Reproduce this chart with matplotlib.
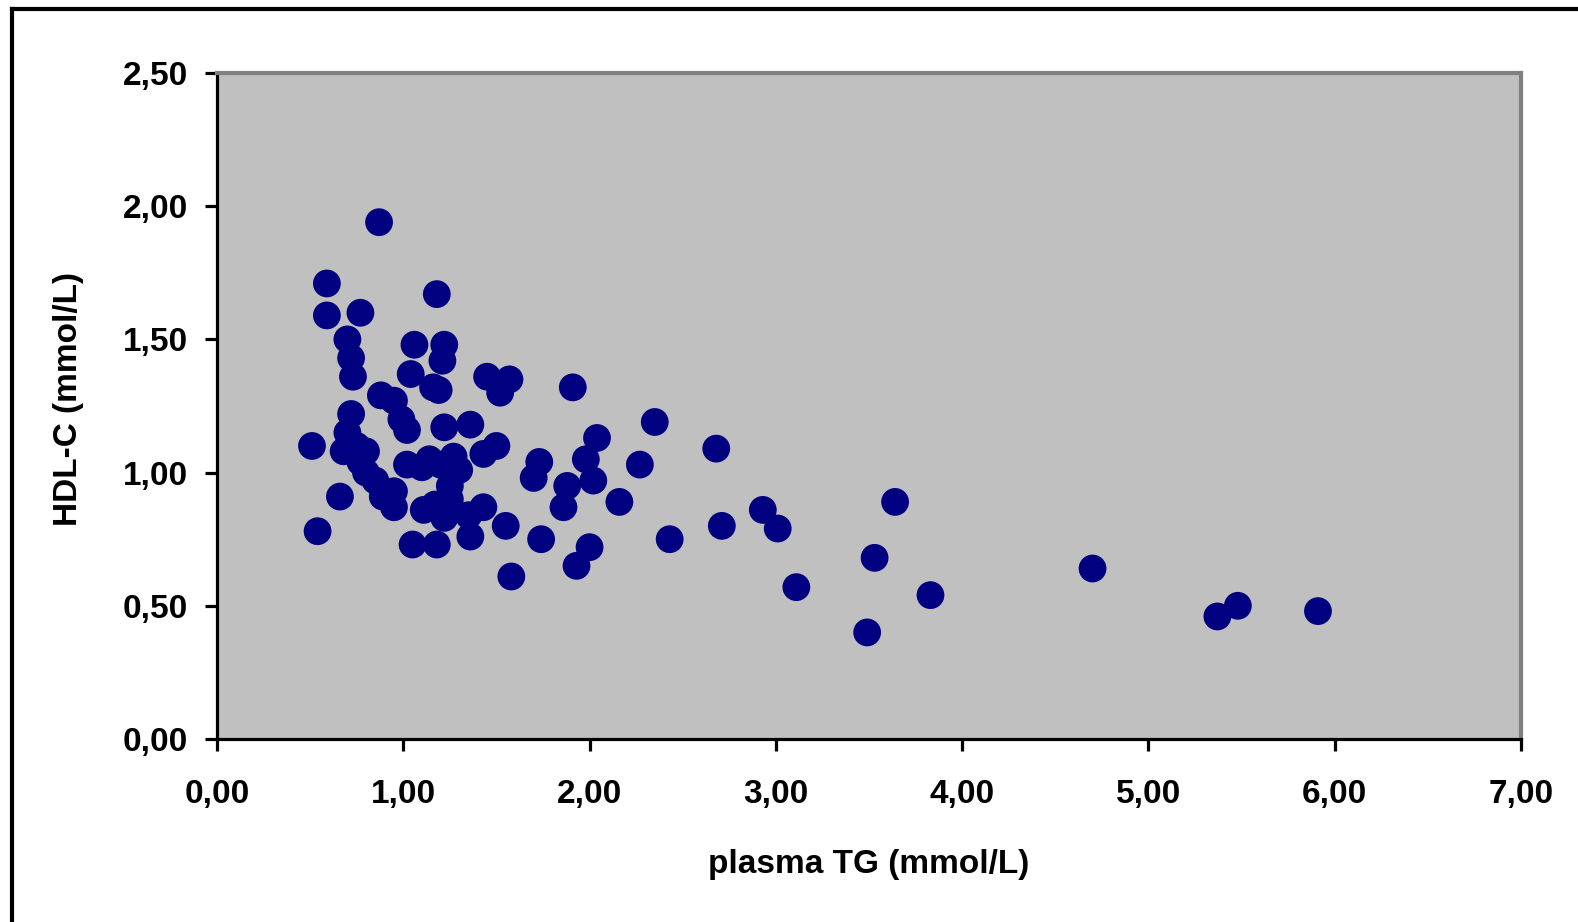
import matplotlib
matplotlib.use("Agg")
import matplotlib.pyplot as plt
from matplotlib.lines import Line2D
from matplotlib.ticker import FuncFormatter

# plasma TG (mmol/L) vs HDL-C (mmol/L)
tg = [0.87, 0.59, 0.59, 0.77, 1.18, 0.70, 0.72, 0.73, 1.06, 1.22,
      1.21, 1.04, 1.16, 1.19, 0.88, 0.95, 0.99, 1.02, 1.45, 1.57,
      1.52, 1.91, 2.35, 0.72, 0.70, 0.75, 0.77, 0.80, 0.51, 0.66,
      0.89, 0.95, 0.95, 0.54, 1.22, 1.36, 1.50, 1.43, 1.02, 1.14,
      1.27, 1.30, 1.25, 1.11, 1.25, 1.43, 1.55, 1.36, 1.22, 1.05,
      1.18, 1.74, 1.73, 1.70, 1.88, 1.86, 2.04, 1.98, 2.02, 2.27,
      2.16, 2.00, 1.93, 1.58, 2.43, 2.68, 2.93, 3.01, 2.71, 3.64,
      3.53, 3.11, 3.83, 4.70, 3.49, 5.37, 5.48, 5.91,
      1.20, 1.35, 1.17, 0.68, 0.80, 0.85, 1.10]
hdl = [1.94, 1.71, 1.59, 1.60, 1.67, 1.50, 1.43, 1.36, 1.48, 1.48,
       1.42, 1.37, 1.32, 1.31, 1.29, 1.27, 1.20, 1.16, 1.36, 1.35,
       1.30, 1.32, 1.19, 1.22, 1.15, 1.10, 1.04, 1.00, 1.10, 0.91,
       0.91, 0.93, 0.87, 0.78, 1.17, 1.18, 1.10, 1.07, 1.03, 1.05,
       1.06, 1.01, 0.95, 0.86, 0.90, 0.87, 0.80, 0.76, 0.83, 0.73,
       0.73, 0.75, 1.04, 0.98, 0.95, 0.87, 1.13, 1.05, 0.97, 1.03,
       0.89, 0.72, 0.65, 0.61, 0.75, 1.09, 0.86, 0.79, 0.80, 0.89,
       0.68, 0.57, 0.54, 0.64, 0.40, 0.46, 0.50, 0.48,
       1.03, 0.84, 0.88, 1.08, 1.08, 0.97, 1.02]

xticks = [0, 1, 2, 3, 4, 5, 6, 7]
yticks = [0, 0.5, 1.0, 1.5, 2.0, 2.5]

plt.rcParams['font.family'] = ['Liberation Sans', 'DejaVu Sans']

fig = plt.figure(figsize=(15.78, 9.22), dpi=100)
ax = fig.add_axes([0.1375, 0.1985, 0.8264, 0.7223])
ax.set_facecolor('#C0C0C0')

ax.scatter(tg, hdl, s=400, color='#000080', edgecolors='none', zorder=3)

ax.set_xlim(0, 7)
ax.set_ylim(0, 2.5)
ax.set_xticks(xticks)
ax.set_yticks(yticks)
comma = FuncFormatter(lambda v, p: ('%.2f' % v).replace('.', ','))
ax.xaxis.set_major_formatter(comma)
ax.yaxis.set_major_formatter(comma)

for s in ['left', 'bottom']:
    ax.spines[s].set_color('black')
    ax.spines[s].set_linewidth(2.3)
for s in ['top', 'right']:
    ax.spines[s].set_color('#808080')
    ax.spines[s].set_linewidth(3)

ax.tick_params(axis='both', direction='out', length=8.6, width=2.3,
               colors='black', labelsize=24)
ax.tick_params(axis='x', pad=20)
ax.tick_params(axis='y', pad=12)
for lab in ax.get_xticklabels() + ax.get_yticklabels():
    lab.set_fontweight('bold')

ax.set_xlabel('plasma TG (mmol/L)', fontsize=24, fontweight='bold', labelpad=28)
ax.set_ylabel('HDL-C (mmol/L)', fontsize=24, fontweight='bold', labelpad=28)
ax.yaxis.label.set_y(0.511)

# outer frame (left and top edges visible)
fig.add_artist(Line2D([12 / 1578, 12 / 1578], [0, 1 - 9 / 922], color='black', lw=3))
fig.add_artist(Line2D([12 / 1578, 1], [1 - 9 / 922, 1 - 9 / 922], color='black', lw=3))

fig.savefig('out.png', dpi=100, facecolor='white')
